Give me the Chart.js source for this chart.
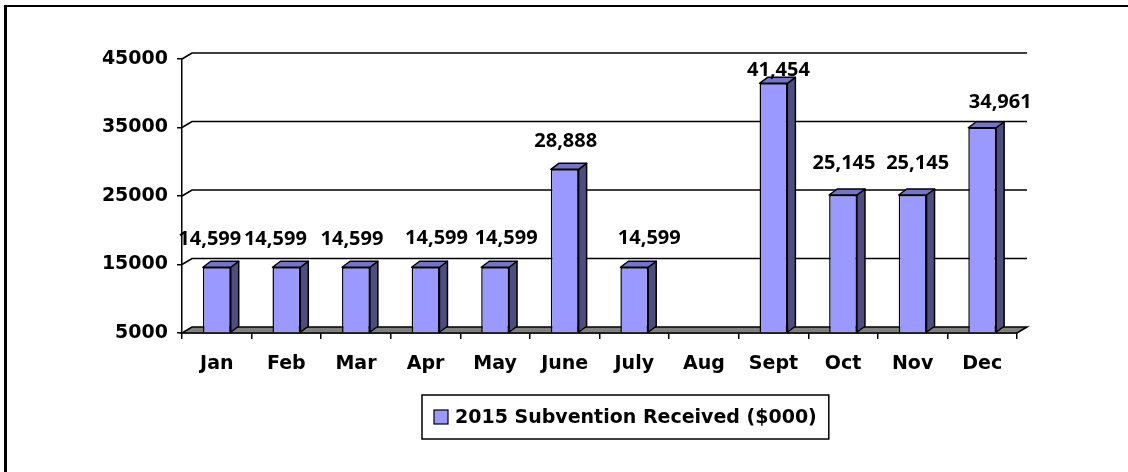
<!DOCTYPE html>
<html>
<head>
<meta charset="utf-8">
<script src="https://cdn.jsdelivr.net/npm/chart.js@4.4.0/dist/chart.umd.min.js"></script>
<style>
    html, body { margin: 0; padding: 0; background: #ffffff; }
    #wrap { position: relative; width: 1128px; height: 472px; }
</style>
</head>
<body>
<div id="wrap"><canvas id="subventionChart" width="1128" height="472"></canvas></div>
<script>
// chart data
const months = ['Jan', 'Feb', 'Mar', 'Apr', 'May', 'June', 'July', 'Aug', 'Sept', 'Oct', 'Nov', 'Dec'];
const received = [14599, 14599, 14599, 14599, 14599, 28888, 14599, null, 41454, 25145, 25145, 34961];
const yTicks = [5000, 15000, 25000, 35000, 45000];
const seriesLabel = '2015 Subvention Received ($000)';

// hand-placed data label nudges (pixels), as in the original sheet
const labelNudgeX = [-7, -11, -4, 11, 11, 1, 15, 0, 5, 1, 5, 18];
const labelNudgeY = [0, 0, 0, -1, -1, 0, -1, 0, 15, -4, -4, 3];

// colours
const COLORS = {
    front: '#9999FF',
    top: '#7474C9',
    side: '#4D4D80',
    floor: '#808080',
    line: '#000000'
};

const FONT = 'DejaVu Sans';
const LABEL_FONT = 'Open Sans';
const WALL = { dx: 10, dy: 6 };
const BAR = { dx: 8, dy: 6 };

// 3D wall, floor, bar sides, labels and legend
const threeD = {
    id: 'threeD',
    beforeDraw(chart) {
        const ctx = chart.ctx;
        ctx.save();
        ctx.fillStyle = '#000';
        ctx.fillRect(4, 5, 3, 467);
        ctx.fillRect(4, 5, 1124, 2);
        ctx.restore();
    },
    beforeDatasetsDraw(chart) {
        const { ctx, chartArea: a, scales: { y } } = chart;
        ctx.save();
        ctx.strokeStyle = COLORS.line;
        ctx.lineWidth = 1.6;
        yTicks.slice(1).forEach(v => {
            const py = y.getPixelForValue(v);
            ctx.beginPath();
            ctx.moveTo(a.left, py);
            ctx.lineTo(a.left + WALL.dx, py - WALL.dy);
            ctx.lineTo(a.right + WALL.dx, py - WALL.dy);
            ctx.stroke();
        });
        // floor
        const fy = y.getPixelForValue(yTicks[0]);
        ctx.fillStyle = COLORS.floor;
        ctx.beginPath();
        ctx.moveTo(a.left, fy);
        ctx.lineTo(a.right, fy);
        ctx.lineTo(a.right + WALL.dx, fy - WALL.dy);
        ctx.lineTo(a.left + WALL.dx, fy - WALL.dy);
        ctx.closePath();
        ctx.fill();
        ctx.stroke();
        ctx.restore();
    },
    afterDatasetsDraw(chart) {
        const { ctx, scales: { y } } = chart;
        const meta = chart.getDatasetMeta(0);
        ctx.save();
        ctx.strokeStyle = COLORS.line;
        ctx.lineWidth = 1.5;
        ctx.lineJoin = 'round';
        meta.data.forEach((bar, i) => {
            if (received[i] == null) return;
            const p = bar.getProps(['x', 'y', 'width', 'base'], true);
            const l = p.x - p.width / 2;
            const r = p.x + p.width / 2;
            // side face
            ctx.fillStyle = COLORS.side;
            ctx.beginPath();
            ctx.moveTo(r, p.y);
            ctx.lineTo(r + BAR.dx, p.y - BAR.dy);
            ctx.lineTo(r + BAR.dx, p.base - BAR.dy);
            ctx.lineTo(r, p.base);
            ctx.closePath();
            ctx.fill();
            ctx.stroke();
            // top face
            ctx.fillStyle = COLORS.top;
            ctx.beginPath();
            ctx.moveTo(l, p.y);
            ctx.lineTo(l + BAR.dx, p.y - BAR.dy);
            ctx.lineTo(r + BAR.dx, p.y - BAR.dy);
            ctx.lineTo(r, p.y);
            ctx.closePath();
            ctx.fill();
            ctx.stroke();
        });

        // data labels
        ctx.fillStyle = '#000';
        ctx.font = `bold 20px "${LABEL_FONT}"`;
        ctx.textAlign = 'center';
        ctx.textBaseline = 'middle';
        meta.data.forEach((bar, i) => {
            const v = received[i];
            if (v == null) return;
            const py = y.getPixelForValue(v) - 28 + labelNudgeY[i];
            ctx.fillText(v.toLocaleString('en-US'), bar.x + labelNudgeX[i], py);
        });
        ctx.restore();
    },
    afterDraw(chart) {
        const ctx = chart.ctx;
        const ds = chart.data.datasets[0];
        ctx.save();
        ctx.font = `bold 19px "${FONT}"`;
        const tw = ctx.measureText(ds.label).width;
        const sw = 14, gap = 7, pad = 12;
        const w = pad + sw + gap + tw + pad;
        const h = 44;
        const cx = 625, cy = 417;
        const left = Math.round(cx - w / 2), top = Math.round(cy - h / 2);
        ctx.strokeStyle = '#000';
        ctx.lineWidth = 1.5;
        ctx.strokeRect(left, top, w, h);
        ctx.fillStyle = ds.backgroundColor;
        ctx.fillRect(left + pad, cy - sw / 2, sw, sw);
        ctx.lineWidth = 1.2;
        ctx.strokeRect(left + pad, cy - sw / 2, sw, sw);
        ctx.fillStyle = '#000';
        ctx.textAlign = 'left';
        ctx.textBaseline = 'middle';
        ctx.fillText(ds.label, left + pad + sw + gap, cy + 1);
        ctx.restore();
    }
};

const canvas = document.getElementById('subventionChart');
new Chart(canvas, {
    type: 'bar',
    data: {
        labels: months,
        datasets: [{
            label: seriesLabel,
            data: received,
            base: yTicks[0],
            backgroundColor: COLORS.front,
            borderColor: COLORS.line,
            borderWidth: 1.5,
            barPercentage: 0.4,
            categoryPercentage: 1
        }]
    },
    options: {
        responsive: false,
        devicePixelRatio: 1,
        animation: false,
        layout: {
            padding: { left: 0, top: 59, right: 111, bottom: 99 }
        },
        plugins: {
            legend: { display: false },
            tooltip: { enabled: false }
        },
        scales: {
            x: {
                afterFit: s => { s.height = 40; },
                grid: {
                    offset: true,
                    drawOnChartArea: false,
                    tickLength: 6,
                    color: COLORS.line,
                    lineWidth: 1.5
                },
                border: { color: COLORS.line, width: 1.5 },
                ticks: {
                    color: '#000',
                    padding: 14,
                    autoSkip: false,
                    maxRotation: 0,
                    font: { family: FONT, size: 19, weight: 'bold' }
                }
            },
            y: {
                min: yTicks[0],
                max: yTicks[yTicks.length - 1],
                afterFit: s => { s.width = 182; },
                afterBuildTicks: s => { s.ticks = yTicks.map(v => ({ value: v })); },
                grid: {
                    drawOnChartArea: false,
                    tickLength: 5,
                    color: COLORS.line,
                    lineWidth: 1.5
                },
                border: { color: COLORS.line, width: 1.5 },
                ticks: {
                    color: '#000',
                    padding: 9,
                    font: { family: FONT, size: 19, weight: 'bold' },
                    callback: value => String(value)
                }
            }
        }
    },
    plugins: [threeD]
});
</script>
</body>
</html>
